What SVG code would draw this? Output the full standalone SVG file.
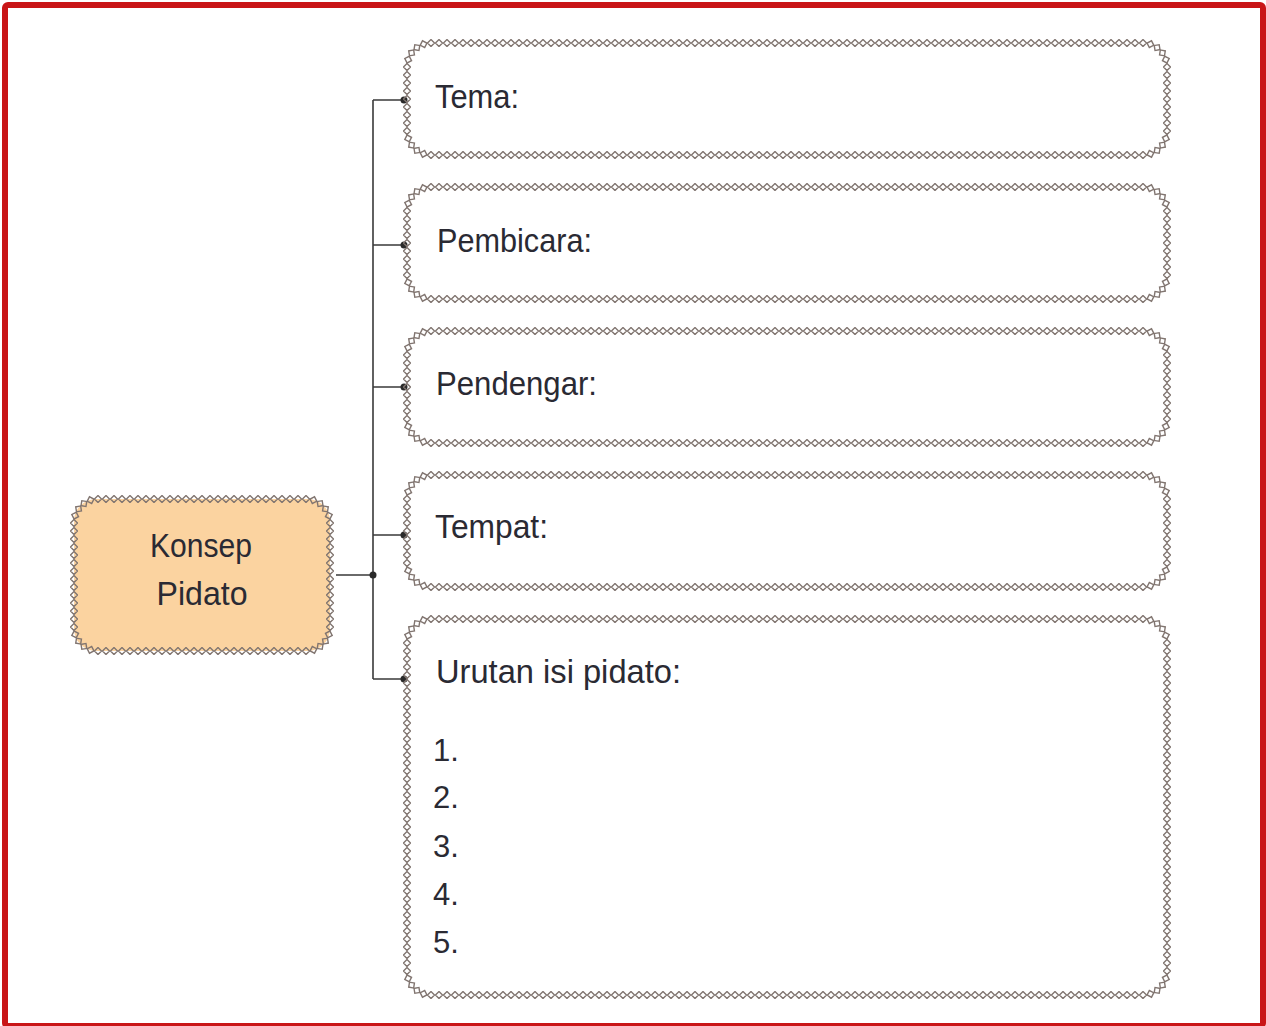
<svg xmlns="http://www.w3.org/2000/svg" xmlns:xlink="http://www.w3.org/1999/xlink" width="1266" height="1026" viewBox="0 0 1266 1026">
<style>
.lbl{font-family:"Liberation Sans","Noto Sans",Arial,sans-serif;font-size:33px;fill:#2a2a33}
.num{font-family:"Liberation Sans","Noto Sans",Arial,sans-serif;font-size:31px;fill:#2a2a33}
.conn{fill:none;stroke:#3a3a3a;stroke-width:1.6}
.dot{fill:#2a2a2a}
.cd{fill:none;stroke:#817570;stroke-width:1.4}
</style>
<defs>
<pattern id="chain" width="8" height="8" patternUnits="userSpaceOnUse">
<path d="M4,0.5 L7.5,4 L4,7.5 L0.5,4 Z" fill="none" stroke="#817570" stroke-width="1.4"/>
</pattern>
<g id="corner">
<rect class="cd" x="-2.5" y="-2.5" width="5" height="5" transform="translate(5.17,20.58) rotate(-27)"/>
<rect class="cd" x="-2.5" y="-2.5" width="5" height="5" transform="translate(8.58,13.89) rotate(-9)"/>
<rect class="cd" x="-2.5" y="-2.5" width="5" height="5" transform="translate(13.89,8.58) rotate(9)"/>
<rect class="cd" x="-2.5" y="-2.5" width="5" height="5" transform="translate(20.58,5.17) rotate(27)"/>
</g>
</defs>
<rect x="0" y="0" width="1266" height="1026" fill="#ffffff"/>
<rect x="5" y="5" width="1258" height="1021" fill="none" stroke="#c91517" stroke-width="6" rx="3"/>

<g id="connectors">
<path class="conn" d="M336,575 H373 M373,100 V679 M373,100 H404 M373,245 H404 M373,387 H404 M373,535 H404 M373,679 H404"/>
<circle class="dot" cx="404" cy="100" r="3.5"/>
<circle class="dot" cx="404" cy="245" r="3.5"/>
<circle class="dot" cx="404" cy="387" r="3.5"/>
<circle class="dot" cx="404" cy="535" r="3.5"/>
<circle class="dot" cx="404" cy="679" r="3.5"/>
<circle class="dot" cx="373" cy="575" r="3.5"/>
</g>

<g id="konsep">
<g transform="translate(70,495)">
<rect x="4" y="4" width="256" height="152" rx="22" fill="#fbd3a0"/>
<rect x="24" y="0" width="216" height="8" fill="url(#chain)"/>
<rect x="24" y="152" width="216" height="8" fill="url(#chain)"/>
<rect x="0" y="24" width="8" height="112" fill="url(#chain)"/>
<rect x="256" y="24" width="8" height="112" fill="url(#chain)"/>
<use xlink:href="#corner"/>
<use xlink:href="#corner" transform="translate(264,0) scale(-1,1)"/>
<use xlink:href="#corner" transform="translate(0,160) scale(1,-1)"/>
<use xlink:href="#corner" transform="translate(264,160) scale(-1,-1)"/>
</g>
<text class="lbl" x="201" y="557" text-anchor="middle" textLength="102" lengthAdjust="spacingAndGlyphs">Konsep</text>
<text class="lbl" x="202" y="605" text-anchor="middle" textLength="91" lengthAdjust="spacingAndGlyphs">Pidato</text>
</g>

<g id="tema">
<g transform="translate(403,39)">
<rect x="24" y="0" width="720" height="8" fill="url(#chain)"/>
<rect x="24" y="112" width="720" height="8" fill="url(#chain)"/>
<rect x="0" y="24" width="8" height="72" fill="url(#chain)"/>
<rect x="760" y="24" width="8" height="72" fill="url(#chain)"/>
<use xlink:href="#corner"/>
<use xlink:href="#corner" transform="translate(768,0) scale(-1,1)"/>
<use xlink:href="#corner" transform="translate(0,120) scale(1,-1)"/>
<use xlink:href="#corner" transform="translate(768,120) scale(-1,-1)"/>
</g>
<text class="lbl" x="435" y="108" textLength="84" lengthAdjust="spacingAndGlyphs">Tema:</text>
</g>

<g id="pembicara">
<g transform="translate(403,183)">
<rect x="24" y="0" width="720" height="8" fill="url(#chain)"/>
<rect x="24" y="112" width="720" height="8" fill="url(#chain)"/>
<rect x="0" y="24" width="8" height="72" fill="url(#chain)"/>
<rect x="760" y="24" width="8" height="72" fill="url(#chain)"/>
<use xlink:href="#corner"/>
<use xlink:href="#corner" transform="translate(768,0) scale(-1,1)"/>
<use xlink:href="#corner" transform="translate(0,120) scale(1,-1)"/>
<use xlink:href="#corner" transform="translate(768,120) scale(-1,-1)"/>
</g>
<text class="lbl" x="437" y="252" textLength="155" lengthAdjust="spacingAndGlyphs">Pembicara:</text>
</g>

<g id="pendengar">
<g transform="translate(403,327)">
<rect x="24" y="0" width="720" height="8" fill="url(#chain)"/>
<rect x="24" y="112" width="720" height="8" fill="url(#chain)"/>
<rect x="0" y="24" width="8" height="72" fill="url(#chain)"/>
<rect x="760" y="24" width="8" height="72" fill="url(#chain)"/>
<use xlink:href="#corner"/>
<use xlink:href="#corner" transform="translate(768,0) scale(-1,1)"/>
<use xlink:href="#corner" transform="translate(0,120) scale(1,-1)"/>
<use xlink:href="#corner" transform="translate(768,120) scale(-1,-1)"/>
</g>
<text class="lbl" x="436" y="395" textLength="161" lengthAdjust="spacingAndGlyphs">Pendengar:</text>
</g>

<g id="tempat">
<g transform="translate(403,471)">
<rect x="24" y="0" width="720" height="8" fill="url(#chain)"/>
<rect x="24" y="112" width="720" height="8" fill="url(#chain)"/>
<rect x="0" y="24" width="8" height="72" fill="url(#chain)"/>
<rect x="760" y="24" width="8" height="72" fill="url(#chain)"/>
<use xlink:href="#corner"/>
<use xlink:href="#corner" transform="translate(768,0) scale(-1,1)"/>
<use xlink:href="#corner" transform="translate(0,120) scale(1,-1)"/>
<use xlink:href="#corner" transform="translate(768,120) scale(-1,-1)"/>
</g>
<text class="lbl" x="435" y="538" textLength="113" lengthAdjust="spacingAndGlyphs">Tempat:</text>
</g>

<g id="urutan">
<g transform="translate(403,615)">
<rect x="24" y="0" width="720" height="8" fill="url(#chain)"/>
<rect x="24" y="376" width="720" height="8" fill="url(#chain)"/>
<rect x="0" y="24" width="8" height="336" fill="url(#chain)"/>
<rect x="760" y="24" width="8" height="336" fill="url(#chain)"/>
<use xlink:href="#corner"/>
<use xlink:href="#corner" transform="translate(768,0) scale(-1,1)"/>
<use xlink:href="#corner" transform="translate(0,384) scale(1,-1)"/>
<use xlink:href="#corner" transform="translate(768,384) scale(-1,-1)"/>
</g>
<text class="lbl" x="436" y="683" textLength="245" lengthAdjust="spacingAndGlyphs">Urutan isi pidato:</text>
<text class="num" x="433" y="761">1.</text>
<text class="num" x="433" y="808">2.</text>
<text class="num" x="433" y="857">3.</text>
<text class="num" x="433" y="905">4.</text>
<text class="num" x="433" y="953">5.</text>
</g>
</svg>
